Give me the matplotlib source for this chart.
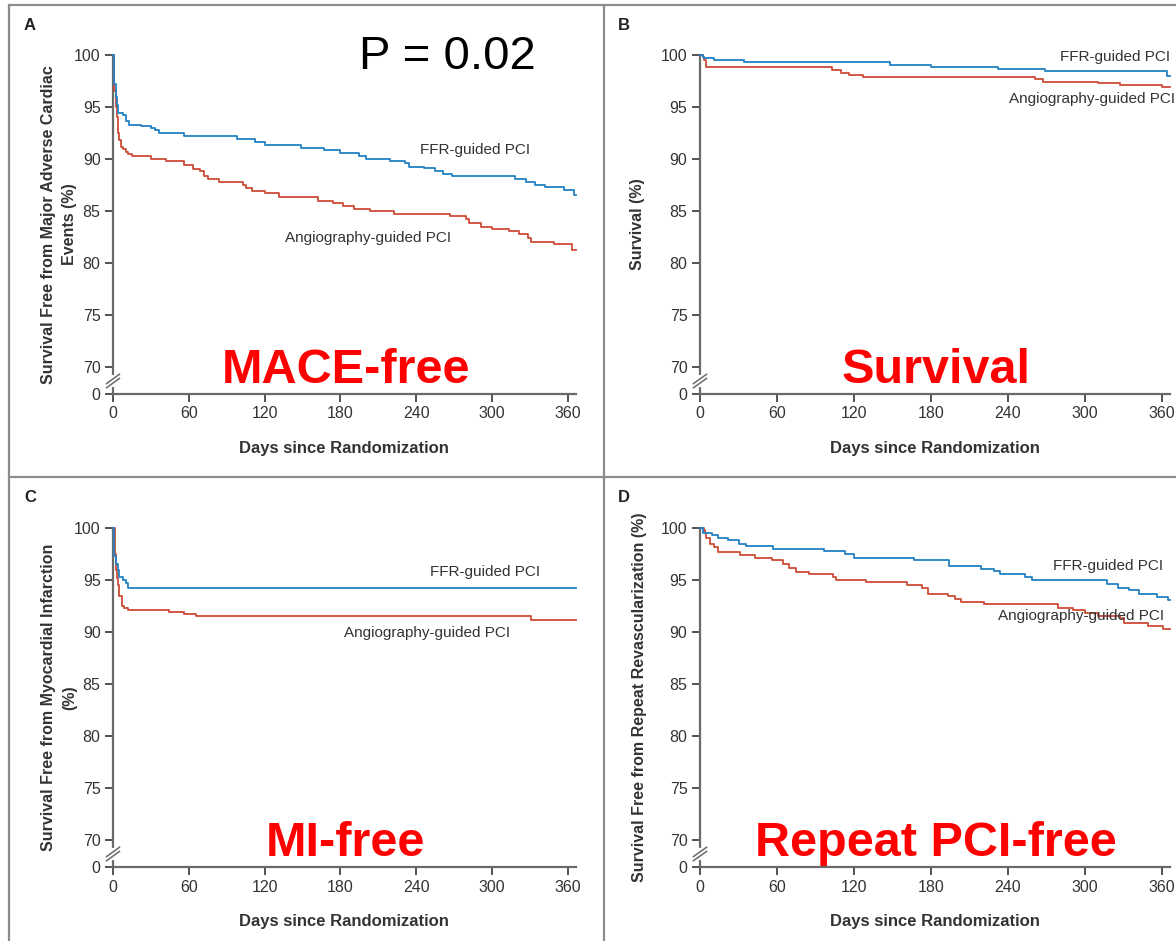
import matplotlib
matplotlib.use('Agg')
import matplotlib.pyplot as plt
from matplotlib.lines import Line2D

# Kaplan-Meier step data, days since randomization vs. percent event-free
mace_ffr_days = [0, 1, 2, 3, 4, 8, 10, 13, 22, 30, 33, 36, 56, 98, 112, 120, 149, 167, 180, 195,
                 200, 219, 231, 234, 246, 255, 261, 268, 318, 327, 334, 342, 357, 365, 366]
mace_ffr_vals = [100, 97.2, 96.0, 95.2, 94.4, 94.2, 93.7, 93.3, 93.2, 93.0, 92.8, 92.5, 92.2, 91.9,
                 91.6, 91.3, 91.1, 90.9, 90.6, 90.3, 90.0, 89.8, 89.6, 89.2, 89.1, 88.8, 88.6, 88.4,
                 88.1, 87.8, 87.5, 87.3, 87.0, 86.5, 86.5]
mace_angio_days = [0, 1, 2, 3, 4, 5, 6, 8, 10, 12, 15, 30, 42, 56, 63, 69, 72, 75, 84, 103,
                   105, 110, 120, 131, 162, 174, 182, 191, 203, 222, 267, 279, 282, 291, 300, 313,
                   321, 328, 331, 349, 363, 366]
mace_angio_vals = [100, 96.5, 95.0, 94.0, 92.5, 91.8, 91.2, 91.0, 90.7, 90.5, 90.3, 90.0, 89.8,
                   89.4, 89.0, 88.8, 88.4, 88.1, 87.8, 87.5, 87.2, 86.9, 86.7, 86.3, 86.0, 85.8,
                   85.5, 85.2, 85.0, 84.7, 84.5, 84.2, 83.8, 83.5, 83.3, 83.1, 82.8, 82.4, 82.0,
                   81.8, 81.2, 81.2]

surv_ffr_days = [0, 2, 3, 11, 34, 148, 180, 232, 269, 364, 366]
surv_ffr_vals = [100, 99.8, 99.7, 99.5, 99.3, 99.0, 98.8, 98.7, 98.5, 98.0, 98.0]
surv_angio_days = [0, 2, 3, 5, 103, 110, 116, 127, 261, 267, 310, 327, 360, 366]
surv_angio_vals = [100, 99.8, 99.5, 98.8, 98.6, 98.3, 98.1, 97.9, 97.7, 97.4, 97.3, 97.1, 96.9, 96.9]

mi_ffr_days = [0, 1, 2, 4, 5, 8, 10, 12, 366]
mi_ffr_vals = [100, 97.3, 96.5, 96.0, 95.3, 95.0, 94.7, 94.2, 94.2]
mi_angio_days = [0, 1.5, 2, 3, 4, 5, 7, 9, 12, 44, 56, 66, 331, 366]
mi_angio_vals = [100, 97.5, 96.0, 95.2, 94.5, 93.5, 92.5, 92.3, 92.1, 91.95, 91.7, 91.5, 91.2, 91.2]

revasc_ffr_days = [0, 2, 9, 14, 22, 30, 36, 57, 97, 113, 120, 167, 194, 219, 229, 234, 253, 259,
                   317, 326, 334, 342, 356, 365, 366]
revasc_ffr_vals = [100, 99.5, 99.3, 99.0, 98.8, 98.5, 98.3, 98.0, 97.8, 97.5, 97.1, 96.9, 96.3,
                   96.1, 95.9, 95.6, 95.3, 95.0, 94.6, 94.2, 94.0, 93.7, 93.4, 93.1, 93.1]
revasc_angio_days = [0, 3, 4, 5, 8, 11, 14, 31, 43, 56, 65, 69, 75, 85, 104, 106, 129, 161, 173,
                     178, 193, 199, 203, 221, 279, 291, 300, 310, 327, 330, 349, 361, 366]
revasc_angio_vals = [100, 99.8, 99.5, 99.0, 98.5, 98.2, 97.7, 97.4, 97.1, 96.9, 96.5, 96.2, 95.8,
                     95.6, 95.3, 95.0, 94.8, 94.5, 94.2, 93.7, 93.5, 93.2, 92.9, 92.7, 92.3, 92.1,
                     91.8, 91.5, 91.3, 90.9, 90.6, 90.3, 90.3]

x_ticks = [0, 60, 120, 180, 240, 300, 360]
y_ticks = [70, 75, 80, 85, 90, 95, 100]
ZERO_POS = 67.4  # where the "0" sits below the axis break

BLUE = '#2281c4'
RED = '#cc4b36'
AXIS = '#6a6a6a'
TEXT = '#333333'
SMALL_FONT = ['Liberation Sans Narrow', 'Liberation Sans', 'DejaVu Sans']
BIG_FONT = ['Liberation Sans', 'DejaVu Sans']

W, H = 1176, 941


def plot_km_panel(ax, ffr, angio, ylabel, ylabel_x, ffr_label_xy, angio_label_xy, big_label,
                  label_ha='left'):
    """
    Draw one Kaplan-Meier panel with a broken y axis
    :param ax: target axes
    :param ffr: (days, values) for the FFR-guided arm
    :param angio: (days, values) for the angiography-guided arm
    :param ylabel: y axis title
    :param ylabel_x: horizontal position of the y axis title, axes fraction
    :param ffr_label_xy: data position of the FFR curve label
    :param angio_label_xy: data position of the angiography curve label
    :param big_label: large red caption near the bottom
    :param label_ha: alignment of the curve labels
    """
    ax.step(angio[0], angio[1], where='post', color=RED, lw=1.3, clip_on=False, zorder=3)
    ax.step(ffr[0], ffr[1], where='post', color=BLUE, lw=1.3, clip_on=False, zorder=3)

    ax.set_xlim(0, 366)
    ax.set_ylim(ZERO_POS, 100)
    ax.set_xticks(x_ticks)
    ax.set_xticklabels([str(t) for t in x_ticks])
    ax.set_yticks([ZERO_POS] + y_ticks)
    ax.set_yticklabels(['0'] + [str(t) for t in y_ticks])

    for s in ['top', 'right']:
        ax.spines[s].set_visible(False)
    for s in ['left', 'bottom']:
        ax.spines[s].set_color(AXIS)
        ax.spines[s].set_linewidth(1.6)
    ax.tick_params(axis='both', direction='out', length=6, width=1.3, color='#444444',
                   labelsize=11.5, labelcolor=TEXT, pad=3)
    for lab in ax.get_xticklabels() + ax.get_yticklabels():
        lab.set_family(SMALL_FONT)

    # axis break on the y axis between 0 and 70
    tr = ax.get_yaxis_transform()
    ax.plot([0, 0], [68.25, 69.05], color='white', lw=3, transform=tr, clip_on=False, zorder=4)
    for off in (-0.2, 0.2):
        ax.plot([-0.014, 0.014], [68.2 + off, 69.1 + off], color=AXIS, lw=1.1,
                transform=tr, clip_on=False, zorder=5)

    ax.set_ylabel(ylabel, fontsize=11.5, fontweight='bold', color=TEXT, family=SMALL_FONT,
                  linespacing=1.5)
    ax.yaxis.set_label_coords(ylabel_x, 0.5)
    ax.set_xlabel('Days since Randomization', fontsize=12, fontweight='bold', color=TEXT,
                  family=SMALL_FONT, labelpad=14)

    ax.text(ffr_label_xy[0], ffr_label_xy[1], 'FFR-guided PCI', fontsize=11, color=TEXT,
            family=SMALL_FONT, ha=label_ha, va='center', clip_on=False)
    ax.text(angio_label_xy[0], angio_label_xy[1], 'Angiography-guided PCI', fontsize=11,
            color=TEXT, family=SMALL_FONT, ha=label_ha, va='center', clip_on=False)

    ax.text(184, 69.7, big_label, fontsize=35, fontweight='bold', color='#ff0000',
            family=BIG_FONT, ha='center', va='center', zorder=6)


fig = plt.figure(figsize=(W / 100, H / 100), dpi=100)

# panel frame lines
frame = dict(color='#8c8c8c', lw=1.6)
fig.add_artist(Line2D([9 / W, 1], [1 - 5 / H, 1 - 5 / H], **frame))
fig.add_artist(Line2D([9 / W, 9 / W], [0, 1 - 5 / H], **frame))
fig.add_artist(Line2D([604 / W, 604 / W], [0, 1 - 5 / H], **frame))
fig.add_artist(Line2D([9 / W, 1], [1 - 477 / H, 1 - 477 / H], **frame))


def panel_rect(x0, x360, y100, y0):
    width = (x360 - x0) * 366 / 360
    return [x0 / W, 1 - y0 / H, width / W, (y0 - y100) / H]


ax_a = fig.add_axes(panel_rect(113, 568, 55, 394))
ax_b = fig.add_axes(panel_rect(700, 1162, 55, 394))
ax_c = fig.add_axes(panel_rect(113, 568, 528, 867))
ax_d = fig.add_axes(panel_rect(700, 1162, 528, 867))

plot_km_panel(ax_a, (mace_ffr_days, mace_ffr_vals), (mace_angio_days, mace_angio_vals),
              'Survival Free from Major Adverse Cardiac\nEvents (%)', -0.078,
              (243, 90.9), (136, 82.4), 'MACE-free')
plot_km_panel(ax_b, (surv_ffr_days, surv_ffr_vals), (surv_angio_days, surv_angio_vals),
              'Survival (%)', -0.117, (366, 99.8), (370, 95.8), 'Survival', label_ha='right')
plot_km_panel(ax_c, (mi_ffr_days, mi_ffr_vals), (mi_angio_days, mi_angio_vals),
              'Survival Free from Myocardial Infarction\n(%)', -0.078,
              (251, 95.8), (183, 89.9), 'MI-free')
plot_km_panel(ax_d, (revasc_ffr_days, revasc_ffr_vals), (revasc_angio_days, revasc_angio_vals),
              'Survival Free from Repeat Revascularization (%)', -0.113,
              (275, 96.35), (232, 91.5), 'Repeat PCI-free')

ax_a.text(195, 99.8, 'P = 0.02', fontsize=34, color='black', family=BIG_FONT,
          ha='left', va='center')

for letter, px, py in [('A', 24, 25), ('B', 618, 25), ('C', 24, 497), ('D', 618, 497)]:
    fig.text(px / W, 1 - py / H, letter, fontsize=12, fontweight='bold', color='#222222',
             family=SMALL_FONT, ha='left', va='center')

plt.savefig('out.png', dpi=100)
